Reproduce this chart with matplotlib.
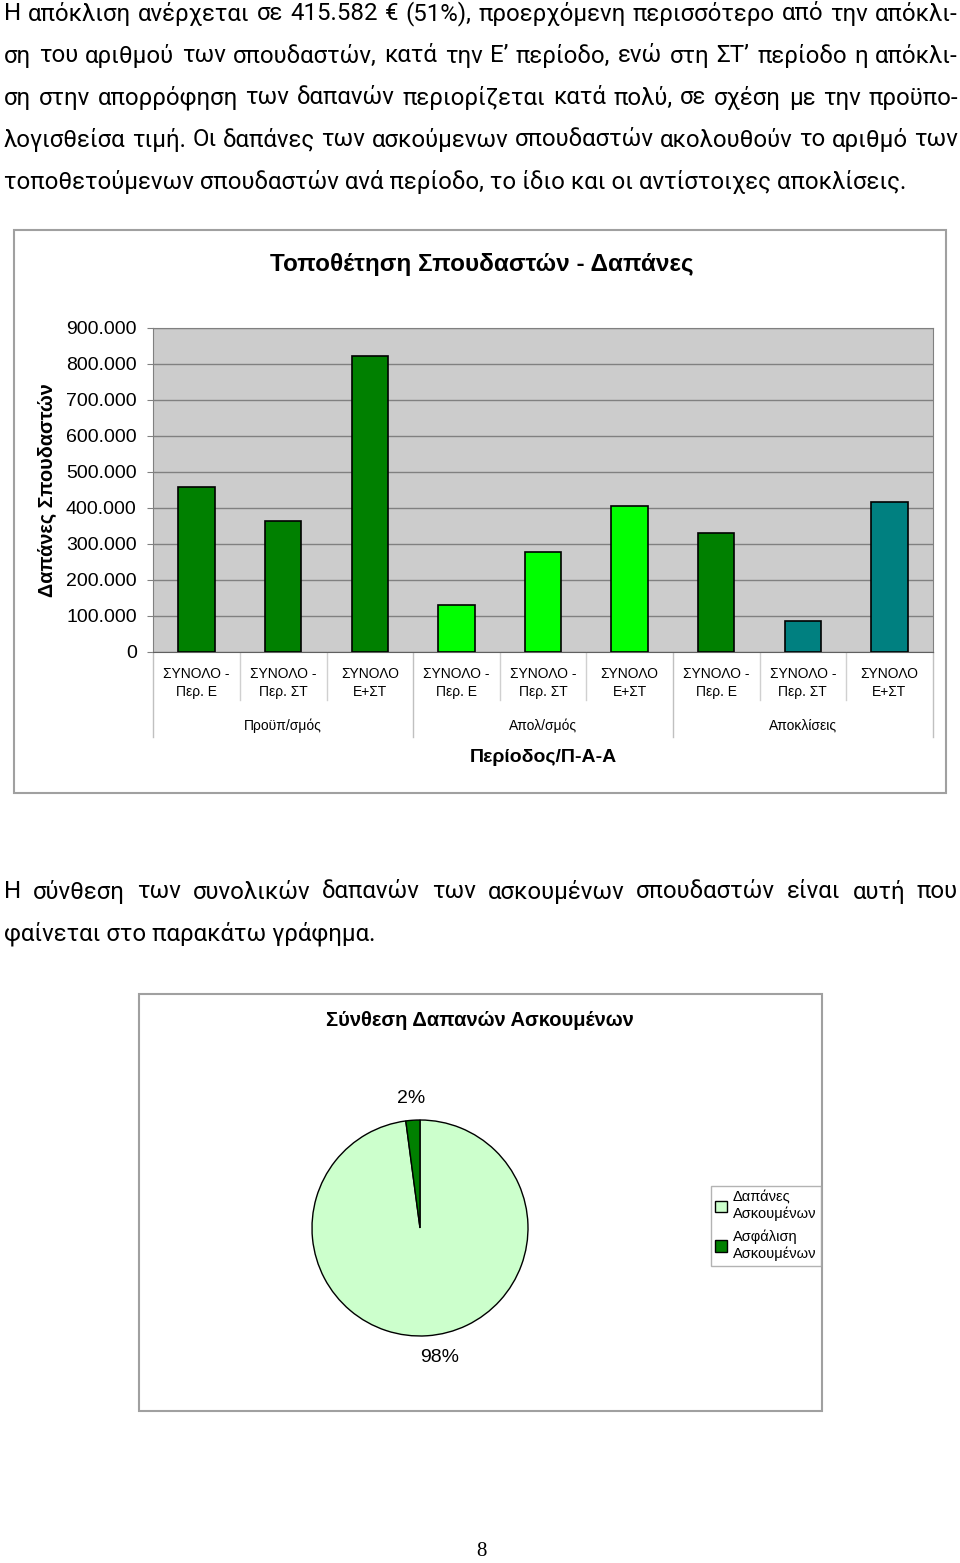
import matplotlib
matplotlib.use("Agg")
import matplotlib.pyplot as plt
from matplotlib import font_manager
from matplotlib.patches import Rectangle
from matplotlib.ticker import FuncFormatter
import matplotlib.transforms as mtransforms

# ====== 数据 ======
cat_labels = ["ΣΥΝΟΛΟ -\nΠερ. Ε", "ΣΥΝΟΛΟ -\nΠερ. ΣΤ", "ΣΥΝΟΛΟ\nΕ+ΣΤ"] * 3
groups = ["Προϋπ/σμός", "Απολ/σμός", "Αποκλίσεις"]
values = [458000, 363000, 821000,
          129000, 277000, 405418,
          329000, 86000, 415582]
bar_colors = ["#008000"] * 3 + ["#00FF00"] * 3 + ["#008000", "#008080", "#008080"]
yticks = [0, 100000, 200000, 300000, 400000, 500000, 600000, 700000, 800000, 900000]

pie_labels = ["Δαπάνες\nΑσκουμένων", "Ασφάλιση\nΑσκουμένων"]
pie_values = [97.9, 2.1]
pie_colors = ["#CCFFCC", "#008000"]

para1 = [
    "Η απόκλιση ανέρχεται σε 415.582 € (51%), προερχόμενη περισσότερο από την απόκλι-",
    "ση του αριθμού των σπουδαστών, κατά την Ε’ περίοδο, ενώ στη ΣΤ’ περίοδο η απόκλι-",
    "ση στην απορρόφηση των δαπανών περιορίζεται κατά πολύ, σε σχέση με την προϋπο-",
    "λογισθείσα τιμή. Οι δαπάνες των ασκούμενων σπουδαστών ακολουθούν το αριθμό των",
    "τοποθετούμενων σπουδαστών ανά περίοδο, το ίδιο και οι αντίστοιχες αποκλίσεις.",
]
para2 = [
    "Η σύνθεση των συνολικών δαπανών των ασκουμένων σπουδαστών είναι αυτή που",
    "φαίνεται στο παρακάτω γράφημα.",
]

W, H = 960, 1563
installed = {f.name for f in font_manager.fontManager.ttflist}
body_font = "Liberation Sans Narrow" if "Liberation Sans Narrow" in installed else "Roboto"
BODY = [body_font, "DejaVu Sans"]
ARIAL = ["Liberation Sans", "DejaVu Sans"]

fig = plt.figure(figsize=(W / 100, H / 100), dpi=100)
fig.patch.set_facecolor("white")
renderer = fig.canvas.get_renderer()


def fx(px):
    return px / W


def fy(py):
    return 1 - py / H


def text_width(s, size):
    t = fig.text(0, 0, s, fontsize=size, family=BODY)
    w = t.get_window_extent(renderer).width
    t.remove()
    return w


# 字号：让最长的一行自然宽度刚好放进版心
X0, X1 = 4, 958
widest = max(text_width(l, 10) for l in para1[:-1] + para2[:-1])
BODY_SIZE = min(19, 10 * (X1 - X0 - 6) / widest)


def put_line(line, y, justify=True, size=BODY_SIZE):
    if not justify:
        fig.text(fx(X0), fy(y), line, fontsize=size, family=BODY, va="center", ha="left")
        return
    words = line.split(" ")
    texts = [fig.text(0, 0, w, fontsize=size, family=BODY, va="center", ha="left") for w in words]
    widths = [t.get_window_extent(renderer).width for t in texts]
    gap = (X1 - X0 - sum(widths)) / (len(words) - 1)
    x = X0
    for t, w in zip(texts, widths):
        t.set_position((fx(x), fy(y)))
        x += w + gap


# ====== 文本 ======
for i, line in enumerate(para1):
    put_line(line, 14 + 42 * i, justify=(i < len(para1) - 1))
for i, line in enumerate(para2):
    put_line(line, 892 + 42 * i, justify=(i < len(para2) - 1))

fig.text(fx(481), fy(1552), "8", fontsize=15, family=["Liberation Serif", "DejaVu Serif"],
         ha="center", va="center")

# ====== 柱状图 ======
fig.patches.append(Rectangle((fx(14), fy(793)), fx(946) - fx(14), fy(230) - fy(793),
                             transform=fig.transFigure, fill=False, edgecolor="#A0A0A0", lw=1.5))
fig.text(fx(482), fy(264), "Τοποθέτηση Σπουδαστών - Δαπάνες", fontsize=17.5, fontweight="bold",
         family=ARIAL, ha="center", va="center")

ax = fig.add_axes([fx(153.3), fy(651.7), fx(932.7) - fx(153.3), fy(327.7) - fy(651.7)])
ax.set_facecolor("#CCCCCC")
x = list(range(len(values)))
ax.bar(x, values, width=0.42, color=bar_colors, edgecolor="black", linewidth=1.2, zorder=3)
ax.set_xlim(-0.5, len(values) - 0.5)
ax.set_ylim(0, 900000)
ax.set_yticks(yticks)
ax.yaxis.set_major_formatter(FuncFormatter(lambda v, p: "0" if v == 0 else f"{int(v):,}".replace(",", ".")))
ax.grid(axis="y", color="#808080", linewidth=1.0, zorder=0)
ax.set_axisbelow(True)
ax.set_xticks([])
ax.tick_params(axis="y", length=4, color="#808080", pad=8, labelsize=14)
for lab in ax.get_yticklabels():
    lab.set_family(ARIAL)
for s in ax.spines.values():
    s.set_color("#808080")
ax.spines["bottom"].set_color("#606060")

trans = mtransforms.blended_transform_factory(ax.transData, ax.transAxes)
for i in range(len(values) + 1):
    long_line = (i % 3 == 0)
    ax.plot([i - 0.5, i - 0.5], [0, -0.263 if long_line else -0.149], transform=trans,
            color="#C0C0C0" if long_line else "#D0D0D0", lw=1, clip_on=False)
for i, lab in enumerate(cat_labels):
    ax.text(i, -0.047, lab, transform=trans, ha="center", va="top", fontsize=10,
            family=ARIAL, linespacing=1.4)
for g, name in enumerate(groups):
    ax.text(3 * g + 1, -0.229, name, transform=trans, ha="center", va="center",
            fontsize=10, family=ARIAL)
ax.text(0.5, -0.327, "Περίοδος/Π-Α-Α", transform=ax.transAxes, ha="center", va="center",
        fontsize=14, fontweight="bold", family=ARIAL)
fig.text(fx(47), fy(490), "Δαπάνες Σπουδαστών", rotation=90, fontsize=14.3, fontweight="bold",
         family=ARIAL, ha="center", va="center")

# ====== 饼图 ======
fig.patches.append(Rectangle((fx(139), fy(1411)), fx(822) - fx(139), fy(994) - fy(1411),
                             transform=fig.transFigure, fill=False, edgecolor="#A0A0A0", lw=1.5))
fig.text(fx(480), fy(1020), "Σύνθεση Δαπανών Ασκουμένων", fontsize=14.5, fontweight="bold",
         family=ARIAL, ha="center", va="center")

R = 108
pax = fig.add_axes([fx(420 - R), fy(1228 + R), fx(2 * R), fy(0) - fy(2 * R)])
wedges, _, autotexts = pax.pie(pie_values, colors=pie_colors, startangle=90, counterclock=False,
                               autopct="%1.0f%%", pctdistance=1.2,
                               wedgeprops=dict(edgecolor="black", linewidth=1.0))
for t in autotexts:
    t.set_fontsize(14)
    t.set_family(ARIAL)
# 98% 标签在原图里稍微靠右
px_, py_ = autotexts[0].get_position()
autotexts[0].set_position((px_ + 0.1, py_))
pax.set_xlim(-1, 1)
pax.set_ylim(-1, 1)
pax.set_aspect("equal")

leg = fig.legend(wedges, pie_labels, loc="upper left", bbox_to_anchor=(fx(711), fy(1186)),
                 prop={"family": "Liberation Sans", "size": 10.5}, fancybox=False,
                 edgecolor="#A0A0A0", handlelength=0.8, handleheight=0.8, handletextpad=0.4,
                 borderpad=0.3, labelspacing=0.6, borderaxespad=0)
leg.get_frame().set_linewidth(1.0)
for h in leg.legend_handles:
    h.set_edgecolor("black")

plt.savefig("out.png", dpi=100)
